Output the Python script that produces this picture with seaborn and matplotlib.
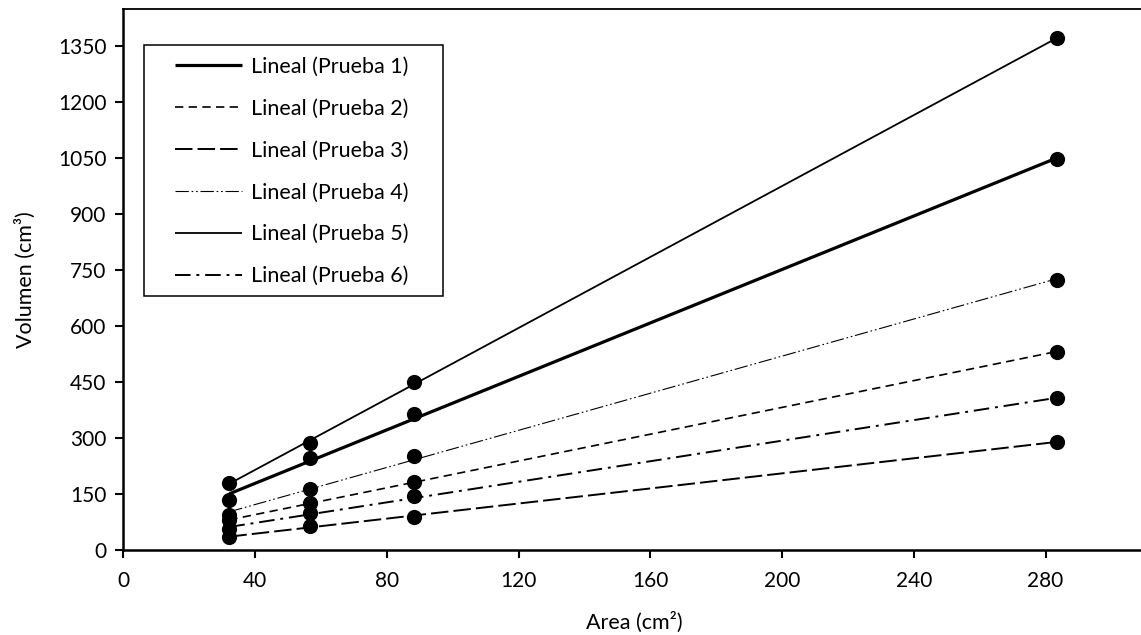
import matplotlib
matplotlib.use("Agg")
import matplotlib.pyplot as plt
from matplotlib.patches import Rectangle
import seaborn as sns
import numpy as np
import pandas as pd

# Data
area = [32.2, 56.7, 88.2, 283.5]
prueba1 = [134, 245, 364, 1046]
prueba2 = [79, 125, 183, 531]
prueba3 = [36, 64, 88, 290]
prueba4 = [95, 162, 252, 724]
prueba5 = [179, 287, 449, 1370]
prueba6 = [55, 98, 144.5, 406]
labels = ["Lineal (Prueba 1)", "Lineal (Prueba 2)", "Lineal (Prueba 3)",
          "Lineal (Prueba 4)", "Lineal (Prueba 5)", "Lineal (Prueba 6)"]
series = [prueba1, prueba2, prueba3, prueba4, prueba5, prueba6]
xticks = [0, 40, 80, 120, 160, 200, 240, 280]
yticks = [0, 150, 300, 450, 600, 750, 900, 1050, 1200, 1350]

sns.set_style("white")
plt.rcParams['font.family'] = ['Lato', 'DejaVu Sans']

styles = [
    dict(lw=2.3, ls='-'),
    dict(lw=1.2, dashes=(5, 3.2)),
    dict(lw=1.4, dashes=(9, 2.6)),
    dict(lw=0.8, dashes=(12, 2.5, 1.5, 2.5, 1.5, 2.5)),
    dict(lw=1.3, ls='-'),
    dict(lw=1.4, dashes=(8, 3, 1.5, 3)),
]

W, H = 1141, 635
fig = plt.figure(figsize=(W / 100, H / 100), dpi=100)
ax_l, ax_b, ax_r, ax_t = 123.3, 550, 1144.4, 9
ax = fig.add_axes([ax_l / W, (H - ax_b) / H, (ax_r - ax_l) / W, (ax_b - ax_t) / H])

def px_to_axes(px, py):
    return (px - ax_l) / (ax_r - ax_l), (ax_b - py) / (ax_b - ax_t)

for vals, lab, st in zip(series, labels, styles):
    df = pd.DataFrame({"x": area, "y": vals})
    lk = dict(color='black', label=lab, solid_capstyle='butt')
    lk['lw'] = st['lw']
    if 'dashes' in st:
        lk['dashes'] = st['dashes']
    else:
        lk['ls'] = st['ls']
    sns.regplot(data=df, x="x", y="y", ax=ax, ci=None, truncate=True,
                scatter_kws=dict(color='black', s=120, alpha=1, zorder=3, linewidths=0),
                line_kws=lk)

ax.set_xlim(0, 310)
ax.set_ylim(0, 1448)
ax.set_xticks(xticks)
ax.set_yticks(yticks)
ax.tick_params(axis='both', direction='out', length=6, width=1.5, labelsize=15,
               bottom=True, left=True, pad=6, color='black', labelcolor='black')
ax.tick_params(axis='x', pad=9)
for s in ax.spines.values():
    s.set_color('black')
    s.set_linewidth(1.8)
ax.spines['top'].set_linewidth(1.3)

ax.set_xlabel("Area (cm²)", fontsize=15.5, color='black', labelpad=15)
ax.set_ylabel("Volumen (cm³)", fontsize=15.5, color='black', labelpad=16)

# legend frame
x0, y0 = px_to_axes(144, 296)
x1, y1 = px_to_axes(443, 44.7)
ax.add_patch(Rectangle((x0, y0), x1 - x0, y1 - y0, transform=ax.transAxes,
                       facecolor='white', edgecolor='black', lw=1.1, zorder=4,
                       clip_on=False))

line_handles = [l for l in ax.get_lines()]
leg = ax.legend(handles=line_handles, labels=labels, loc='upper left',
                bbox_to_anchor=px_to_axes(175, 56.5),
                fontsize=15.5, frameon=False,
                handlelength=3.1, handletextpad=0.45, labelspacing=1.02,
                borderpad=0, borderaxespad=0)
leg.set_zorder(5)
for t in leg.get_texts():
    t.set_color('black')

fig.savefig("out.png", dpi=100)
